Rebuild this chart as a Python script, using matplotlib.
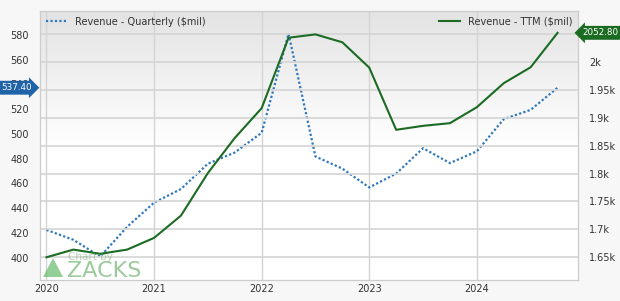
import numpy as np
import matplotlib
matplotlib.use("Agg")
from matplotlib import pyplot as plt

# Quarter positions (fractional years) and revenue values ($mil)
quarters = [2020 + 0.25 * i for i in range(20)]
revenue_quarterly = [422.5, 414.5, 401.0, 425.0, 444.5, 455.5, 476.0, 485.0, 501.0, 581.0,
                     481.8, 472.0, 456.8, 468.0, 488.5, 476.5, 486.0, 512.0, 519.5, 537.4]
revenue_ttm = [1649.8, 1663.6, 1656.0, 1663.6, 1684.6, 1724.6, 1801.0, 1864.0, 1917.5, 2044.0,
               2050.0, 2035.8, 1990.3, 1878.7, 1885.8, 1890.6, 1919.3, 1962.4, 1991.0, 2052.8]

year_ticks = [2020, 2021, 2022, 2023, 2024]
left_ticks = [400, 420, 440, 460, 480, 500, 520, 540, 560, 580]
right_ticks = [1650, 1700, 1750, 1800, 1850, 1900, 1950, 2000, 2050]
right_labels = ["1.65k", "1.7k", "1.75k", "1.8k", "1.85k", "1.9k", "1.95k", "2k", ""]

BLUE = "#2f78bd"
GREEN = "#1b6b22"
GRID = "#d4d4d4"

fig = plt.figure(figsize=(6.2, 3.01), dpi=100, facecolor="#f7f7f7")
ax = fig.add_axes([40 / 620, 21 / 301, 538 / 620, 269 / 301])
ax2 = ax.twinx()

# gradient background in the plot area
grad = np.linspace(0, 1, 256).reshape(-1, 1)
ax.imshow(grad, cmap=matplotlib.colors.LinearSegmentedColormap.from_list("bg", ["#e3e3e3", "#ffffff", "#ffffff"]),
          extent=[0, 1, 0, 1], transform=ax.transAxes, aspect="auto", zorder=-5, origin="upper")

ax.plot(quarters, revenue_quarterly, color=BLUE, linestyle=(0, (1, 1)), linewidth=1.6,
        label="Revenue - Quarterly ($mil)")
ax2.plot(quarters, revenue_ttm, color=GREEN, linewidth=1.5, label="Revenue - TTM ($mil)")

ax.set_xlim(2019.94, 2024.94)
ax.set_ylim(382, 599.4)
ax2.set_ylim(1609, 2092)

ax.set_xticks(year_ticks)
ax.set_xticklabels([str(y) for y in year_ticks])
ax.set_yticks(left_ticks)
ax2.set_yticks(right_ticks)
ax2.set_yticklabels(right_labels)

ax.grid(axis="x", color=GRID, linewidth=1)
ax.set_axisbelow(True)
ax2.grid(axis="y", color=GRID, linewidth=1.2)
ax2.set_axisbelow(True)

for a in (ax, ax2):
    for s in a.spines.values():
        s.set_color("#cccccc")
    a.tick_params(length=0, labelsize=7, colors="#333333")
ax.tick_params(axis="y", pad=8)
ax2.tick_params(axis="y", pad=8)
ax.tick_params(axis="x", pad=3)

# legends
ax.legend(loc="upper left", frameon=False, fontsize=7, handlelength=2.2,
          borderaxespad=0.2, labelcolor="#333333")
ax2.legend(loc="upper right", frameon=False, fontsize=7, handlelength=2.2,
           borderaxespad=0.2, labelcolor="#333333")

# value badges (offsets in points; 1px = 0.72pt)
ax.annotate(f"{revenue_quarterly[-1]:.2f}", xy=(0, revenue_quarterly[-1]),
            xycoords=("axes fraction", "data"), xytext=(-17, 0), textcoords="offset points",
            ha="center", va="center", fontsize=6.3, color="white",
            bbox=dict(boxstyle="rarrow,pad=0.28", fc="#1f64a8", ec="none"),
            annotation_clip=False)
ax2.annotate(f"{revenue_ttm[-1]:.2f}", xy=(1, revenue_ttm[-1]),
             xycoords=("axes fraction", "data"), xytext=(16, 0), textcoords="offset points",
             ha="center", va="center", fontsize=6.3, color="white",
             bbox=dict(boxstyle="larrow,pad=0.28", fc=GREEN, ec="none"),
             annotation_clip=False)

# watermark
fig.text(68 / 620, 1 - 257 / 301, "Chart by", fontsize=7.5, color="#6aaa6a", alpha=0.5,
         ha="left", va="center")
fig.text(67 / 620, 1 - 271 / 301, "ZACKS", fontsize=16, color="#5aa85a", alpha=0.6,
         ha="left", va="center")
fig.patches.append(matplotlib.patches.Polygon(
    [[43 / 620, 1 - 277 / 301], [63 / 620, 1 - 277 / 301], [53 / 620, 1 - 258 / 301]],
    closed=True, transform=fig.transFigure, fc="#4caf50", alpha=0.6, ec="none"))

plt.savefig("out.png", dpi=100, facecolor=fig.get_facecolor())
plt.close()
